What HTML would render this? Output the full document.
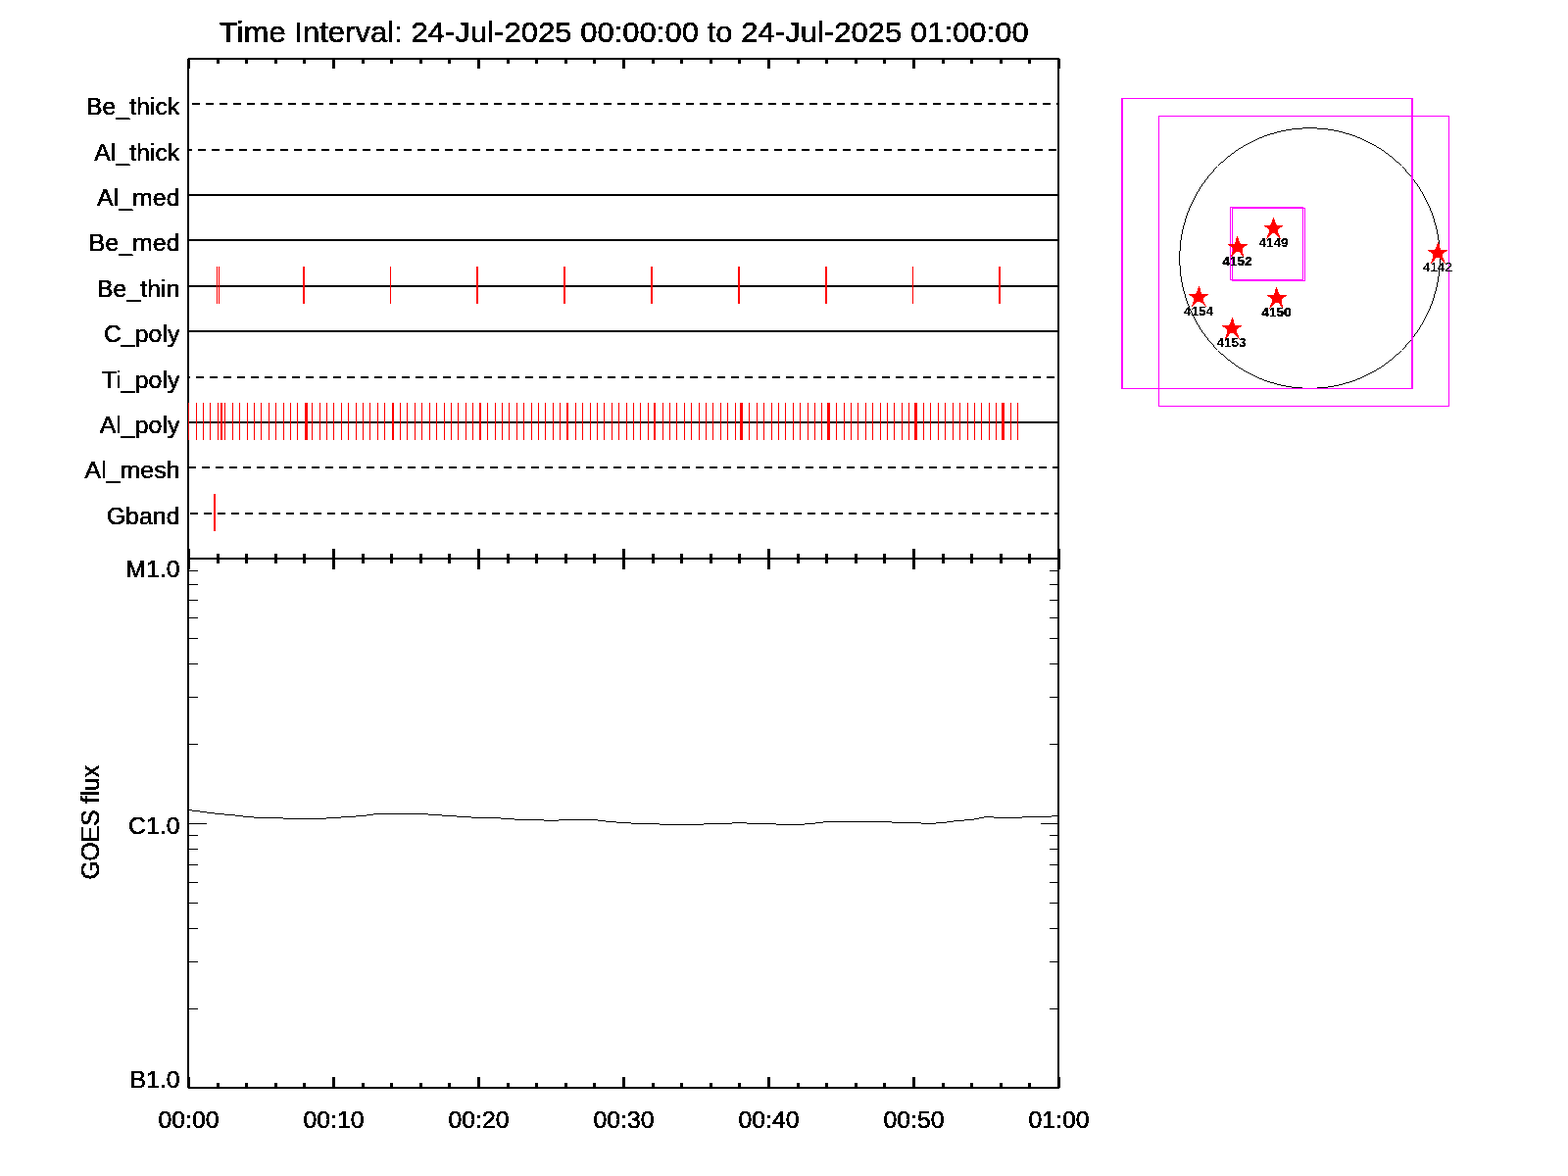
<!DOCTYPE html>
<html lang="en">
<head>
<meta charset="utf-8">
<title>Time Interval: 24-Jul-2025 00:00:00 to 24-Jul-2025 01:00:00</title>
<style>
html,body{margin:0;padding:0;background:#fff;}
body{width:1600px;height:1200px;overflow:hidden;}
svg{display:block;}
text{font-family:"Liberation Sans",sans-serif;fill:#000;}
</style>
</head>
<body>
<svg width="1600" height="1200" viewBox="0 0 1600 1200">
<defs><filter id="bin" x="0" y="0" width="1600" height="1200" filterUnits="userSpaceOnUse" color-interpolation-filters="sRGB"><feComponentTransfer><feFuncA type="discrete" tableValues="0 1"/></feComponentTransfer></filter></defs>
<rect x="0" y="0" width="1600" height="1200" fill="#fff"/>
<g id="fov" shape-rendering="crispEdges">
<g fill="#000"><rect x="1329" y="130" width="15" height="1"/><rect x="1318" y="131" width="11" height="1"/><rect x="1344" y="131" width="11" height="1"/><rect x="1312" y="132" width="6" height="1"/><rect x="1355" y="132" width="6" height="1"/><rect x="1307" y="133" width="5" height="1"/><rect x="1361" y="133" width="5" height="1"/><rect x="1303" y="134" width="4" height="1"/><rect x="1366" y="134" width="4" height="1"/><rect x="1300" y="135" width="3" height="1"/><rect x="1370" y="135" width="3" height="1"/><rect x="1296" y="136" width="4" height="1"/><rect x="1373" y="136" width="4" height="1"/><rect x="1293" y="137" width="3" height="1"/><rect x="1377" y="137" width="3" height="1"/><rect x="1290" y="138" width="3" height="1"/><rect x="1380" y="138" width="3" height="1"/><rect x="1288" y="139" width="2" height="1"/><rect x="1383" y="139" width="2" height="1"/><rect x="1285" y="140" width="3" height="1"/><rect x="1385" y="140" width="3" height="1"/><rect x="1283" y="141" width="2" height="1"/><rect x="1388" y="141" width="2" height="1"/><rect x="1281" y="142" width="2" height="1"/><rect x="1390" y="142" width="2" height="1"/><rect x="1279" y="143" width="2" height="1"/><rect x="1392" y="143" width="2" height="1"/><rect x="1277" y="144" width="2" height="1"/><rect x="1394" y="144" width="2" height="1"/><rect x="1275" y="145" width="2" height="1"/><rect x="1396" y="145" width="2" height="1"/><rect x="1273" y="146" width="2" height="1"/><rect x="1398" y="146" width="2" height="1"/><rect x="1271" y="147" width="2" height="1"/><rect x="1400" y="147" width="2" height="1"/><rect x="1269" y="148" width="2" height="1"/><rect x="1402" y="148" width="2" height="1"/><rect x="1268" y="149" width="1" height="1"/><rect x="1404" y="149" width="1" height="1"/><rect x="1266" y="150" width="2" height="1"/><rect x="1405" y="150" width="2" height="1"/><rect x="1264" y="151" width="2" height="1"/><rect x="1407" y="151" width="2" height="1"/><rect x="1263" y="152" width="1" height="1"/><rect x="1409" y="152" width="1" height="1"/><rect x="1261" y="153" width="2" height="1"/><rect x="1410" y="153" width="2" height="1"/><rect x="1260" y="154" width="1" height="1"/><rect x="1412" y="154" width="1" height="1"/><rect x="1259" y="155" width="1" height="1"/><rect x="1413" y="155" width="1" height="1"/><rect x="1257" y="156" width="2" height="1"/><rect x="1414" y="156" width="2" height="1"/><rect x="1256" y="157" width="1" height="1"/><rect x="1416" y="157" width="1" height="1"/><rect x="1255" y="158" width="1" height="1"/><rect x="1417" y="158" width="1" height="1"/><rect x="1253" y="159" width="2" height="1"/><rect x="1418" y="159" width="2" height="1"/><rect x="1252" y="160" width="1" height="1"/><rect x="1420" y="160" width="1" height="1"/><rect x="1251" y="161" width="1" height="1"/><rect x="1421" y="161" width="1" height="1"/><rect x="1250" y="162" width="1" height="1"/><rect x="1422" y="162" width="1" height="1"/><rect x="1249" y="163" width="1" height="1"/><rect x="1423" y="163" width="1" height="1"/><rect x="1248" y="164" width="1" height="1"/><rect x="1424" y="164" width="1" height="1"/><rect x="1246" y="165" width="2" height="1"/><rect x="1425" y="165" width="2" height="1"/><rect x="1245" y="166" width="1" height="1"/><rect x="1427" y="166" width="1" height="1"/><rect x="1244" y="167" width="1" height="1"/><rect x="1428" y="167" width="1" height="1"/><rect x="1243" y="168" width="1" height="1"/><rect x="1429" y="168" width="1" height="1"/><rect x="1241" y="170" width="1" height="1"/><rect x="1431" y="170" width="1" height="1"/><rect x="1240" y="171" width="1" height="1"/><rect x="1432" y="171" width="1" height="1"/><rect x="1239" y="172" width="1" height="1"/><rect x="1433" y="172" width="1" height="1"/><rect x="1238" y="173" width="1" height="2"/><rect x="1434" y="173" width="1" height="2"/><rect x="1237" y="175" width="1" height="1"/><rect x="1435" y="175" width="1" height="1"/><rect x="1236" y="176" width="1" height="1"/><rect x="1436" y="176" width="1" height="1"/><rect x="1235" y="177" width="1" height="1"/><rect x="1437" y="177" width="1" height="1"/><rect x="1234" y="178" width="1" height="1"/><rect x="1438" y="178" width="1" height="1"/><rect x="1233" y="179" width="1" height="1"/><rect x="1439" y="179" width="1" height="1"/><rect x="1232" y="180" width="1" height="2"/><rect x="1440" y="180" width="1" height="2"/><rect x="1231" y="182" width="1" height="1"/><rect x="1441" y="182" width="1" height="1"/><rect x="1230" y="183" width="1" height="1"/><rect x="1442" y="183" width="1" height="1"/><rect x="1229" y="184" width="1" height="2"/><rect x="1443" y="184" width="1" height="2"/><rect x="1228" y="186" width="1" height="1"/><rect x="1444" y="186" width="1" height="1"/><rect x="1227" y="187" width="1" height="1"/><rect x="1445" y="187" width="1" height="1"/><rect x="1226" y="188" width="1" height="2"/><rect x="1446" y="188" width="1" height="2"/><rect x="1225" y="190" width="1" height="1"/><rect x="1447" y="190" width="1" height="1"/><rect x="1224" y="191" width="1" height="2"/><rect x="1448" y="191" width="1" height="2"/><rect x="1223" y="193" width="1" height="2"/><rect x="1449" y="193" width="1" height="2"/><rect x="1222" y="195" width="1" height="1"/><rect x="1450" y="195" width="1" height="1"/><rect x="1221" y="196" width="1" height="2"/><rect x="1451" y="196" width="1" height="2"/><rect x="1220" y="198" width="1" height="2"/><rect x="1452" y="198" width="1" height="2"/><rect x="1219" y="200" width="1" height="2"/><rect x="1453" y="200" width="1" height="2"/><rect x="1218" y="202" width="1" height="2"/><rect x="1454" y="202" width="1" height="2"/><rect x="1217" y="204" width="1" height="2"/><rect x="1455" y="204" width="1" height="2"/><rect x="1216" y="206" width="1" height="2"/><rect x="1456" y="206" width="1" height="2"/><rect x="1215" y="208" width="1" height="2"/><rect x="1457" y="208" width="1" height="2"/><rect x="1214" y="210" width="1" height="2"/><rect x="1458" y="210" width="1" height="2"/><rect x="1213" y="212" width="1" height="3"/><rect x="1459" y="212" width="1" height="3"/><rect x="1212" y="215" width="1" height="2"/><rect x="1460" y="215" width="1" height="2"/><rect x="1211" y="217" width="1" height="3"/><rect x="1461" y="217" width="1" height="3"/><rect x="1210" y="220" width="1" height="3"/><rect x="1462" y="220" width="1" height="3"/><rect x="1209" y="223" width="1" height="4"/><rect x="1463" y="223" width="1" height="4"/><rect x="1208" y="227" width="1" height="3"/><rect x="1464" y="227" width="1" height="3"/><rect x="1207" y="230" width="1" height="4"/><rect x="1465" y="230" width="1" height="4"/><rect x="1206" y="234" width="1" height="5"/><rect x="1466" y="234" width="1" height="5"/><rect x="1205" y="239" width="1" height="6"/><rect x="1467" y="239" width="1" height="6"/><rect x="1204" y="245" width="1" height="11"/><rect x="1468" y="245" width="1" height="11"/><rect x="1203" y="256" width="1" height="15"/><rect x="1469" y="256" width="1" height="15"/><rect x="1204" y="271" width="1" height="11"/><rect x="1468" y="271" width="1" height="11"/><rect x="1205" y="282" width="1" height="6"/><rect x="1467" y="282" width="1" height="6"/><rect x="1206" y="288" width="1" height="5"/><rect x="1466" y="288" width="1" height="5"/><rect x="1207" y="293" width="1" height="4"/><rect x="1465" y="293" width="1" height="4"/><rect x="1208" y="297" width="1" height="3"/><rect x="1464" y="297" width="1" height="3"/><rect x="1209" y="300" width="1" height="4"/><rect x="1463" y="300" width="1" height="4"/><rect x="1210" y="304" width="1" height="3"/><rect x="1462" y="304" width="1" height="3"/><rect x="1211" y="307" width="1" height="3"/><rect x="1461" y="307" width="1" height="3"/><rect x="1212" y="310" width="1" height="2"/><rect x="1460" y="310" width="1" height="2"/><rect x="1213" y="312" width="1" height="3"/><rect x="1459" y="312" width="1" height="3"/><rect x="1214" y="315" width="1" height="2"/><rect x="1458" y="315" width="1" height="2"/><rect x="1215" y="317" width="1" height="2"/><rect x="1457" y="317" width="1" height="2"/><rect x="1216" y="319" width="1" height="2"/><rect x="1456" y="319" width="1" height="2"/><rect x="1217" y="321" width="1" height="2"/><rect x="1455" y="321" width="1" height="2"/><rect x="1218" y="323" width="1" height="2"/><rect x="1454" y="323" width="1" height="2"/><rect x="1219" y="325" width="1" height="2"/><rect x="1453" y="325" width="1" height="2"/><rect x="1220" y="327" width="1" height="2"/><rect x="1452" y="327" width="1" height="2"/><rect x="1221" y="329" width="1" height="2"/><rect x="1451" y="329" width="1" height="2"/><rect x="1222" y="331" width="1" height="1"/><rect x="1450" y="331" width="1" height="1"/><rect x="1223" y="332" width="1" height="2"/><rect x="1449" y="332" width="1" height="2"/><rect x="1224" y="334" width="1" height="2"/><rect x="1448" y="334" width="1" height="2"/><rect x="1225" y="336" width="1" height="1"/><rect x="1447" y="336" width="1" height="1"/><rect x="1226" y="337" width="1" height="2"/><rect x="1446" y="337" width="1" height="2"/><rect x="1227" y="339" width="1" height="1"/><rect x="1445" y="339" width="1" height="1"/><rect x="1228" y="340" width="1" height="1"/><rect x="1444" y="340" width="1" height="1"/><rect x="1229" y="341" width="1" height="2"/><rect x="1443" y="341" width="1" height="2"/><rect x="1230" y="343" width="1" height="1"/><rect x="1442" y="343" width="1" height="1"/><rect x="1231" y="344" width="1" height="1"/><rect x="1441" y="344" width="1" height="1"/><rect x="1232" y="345" width="1" height="2"/><rect x="1440" y="345" width="1" height="2"/><rect x="1233" y="347" width="1" height="1"/><rect x="1439" y="347" width="1" height="1"/><rect x="1234" y="348" width="1" height="1"/><rect x="1438" y="348" width="1" height="1"/><rect x="1235" y="349" width="1" height="1"/><rect x="1437" y="349" width="1" height="1"/><rect x="1236" y="350" width="1" height="1"/><rect x="1436" y="350" width="1" height="1"/><rect x="1237" y="351" width="1" height="1"/><rect x="1435" y="351" width="1" height="1"/><rect x="1238" y="352" width="1" height="2"/><rect x="1434" y="352" width="1" height="2"/><rect x="1239" y="354" width="1" height="1"/><rect x="1433" y="354" width="1" height="1"/><rect x="1240" y="355" width="1" height="1"/><rect x="1432" y="355" width="1" height="1"/><rect x="1241" y="356" width="1" height="1"/><rect x="1431" y="356" width="1" height="1"/><rect x="1243" y="358" width="1" height="1"/><rect x="1429" y="358" width="1" height="1"/><rect x="1244" y="359" width="1" height="1"/><rect x="1428" y="359" width="1" height="1"/><rect x="1245" y="360" width="1" height="1"/><rect x="1427" y="360" width="1" height="1"/><rect x="1246" y="361" width="2" height="1"/><rect x="1425" y="361" width="2" height="1"/><rect x="1248" y="362" width="1" height="1"/><rect x="1424" y="362" width="1" height="1"/><rect x="1249" y="363" width="1" height="1"/><rect x="1423" y="363" width="1" height="1"/><rect x="1250" y="364" width="1" height="1"/><rect x="1422" y="364" width="1" height="1"/><rect x="1251" y="365" width="1" height="1"/><rect x="1421" y="365" width="1" height="1"/><rect x="1252" y="366" width="1" height="1"/><rect x="1420" y="366" width="1" height="1"/><rect x="1253" y="367" width="2" height="1"/><rect x="1418" y="367" width="2" height="1"/><rect x="1255" y="368" width="1" height="1"/><rect x="1417" y="368" width="1" height="1"/><rect x="1256" y="369" width="1" height="1"/><rect x="1416" y="369" width="1" height="1"/><rect x="1257" y="370" width="2" height="1"/><rect x="1414" y="370" width="2" height="1"/><rect x="1259" y="371" width="1" height="1"/><rect x="1413" y="371" width="1" height="1"/><rect x="1260" y="372" width="1" height="1"/><rect x="1412" y="372" width="1" height="1"/><rect x="1261" y="373" width="2" height="1"/><rect x="1410" y="373" width="2" height="1"/><rect x="1263" y="374" width="1" height="1"/><rect x="1409" y="374" width="1" height="1"/><rect x="1264" y="375" width="2" height="1"/><rect x="1407" y="375" width="2" height="1"/><rect x="1266" y="376" width="2" height="1"/><rect x="1405" y="376" width="2" height="1"/><rect x="1268" y="377" width="1" height="1"/><rect x="1404" y="377" width="1" height="1"/><rect x="1269" y="378" width="2" height="1"/><rect x="1402" y="378" width="2" height="1"/><rect x="1271" y="379" width="2" height="1"/><rect x="1400" y="379" width="2" height="1"/><rect x="1273" y="380" width="2" height="1"/><rect x="1398" y="380" width="2" height="1"/><rect x="1275" y="381" width="2" height="1"/><rect x="1396" y="381" width="2" height="1"/><rect x="1277" y="382" width="2" height="1"/><rect x="1394" y="382" width="2" height="1"/><rect x="1279" y="383" width="2" height="1"/><rect x="1392" y="383" width="2" height="1"/><rect x="1281" y="384" width="2" height="1"/><rect x="1390" y="384" width="2" height="1"/><rect x="1283" y="385" width="2" height="1"/><rect x="1388" y="385" width="2" height="1"/><rect x="1285" y="386" width="3" height="1"/><rect x="1385" y="386" width="3" height="1"/><rect x="1288" y="387" width="2" height="1"/><rect x="1383" y="387" width="2" height="1"/><rect x="1290" y="388" width="3" height="1"/><rect x="1380" y="388" width="3" height="1"/><rect x="1293" y="389" width="3" height="1"/><rect x="1377" y="389" width="3" height="1"/><rect x="1296" y="390" width="4" height="1"/><rect x="1373" y="390" width="4" height="1"/><rect x="1300" y="391" width="3" height="1"/><rect x="1370" y="391" width="3" height="1"/><rect x="1303" y="392" width="4" height="1"/><rect x="1366" y="392" width="4" height="1"/><rect x="1307" y="393" width="5" height="1"/><rect x="1361" y="393" width="5" height="1"/><rect x="1312" y="394" width="6" height="1"/><rect x="1355" y="394" width="6" height="1"/><rect x="1318" y="395" width="11" height="1"/><rect x="1344" y="395" width="11" height="1"/><rect x="1329" y="396" width="15" height="1"/></g>
<rect x="1144.5" y="100.5" width="296" height="296" fill="none" stroke="#f0f" stroke-width="1"/>
<rect x="1145.5" y="100.5" width="296" height="296" fill="none" stroke="#f0f" stroke-width="1"/>
<rect x="1182.5" y="118.5" width="296" height="296" fill="none" stroke="#f0f" stroke-width="1"/>
<rect x="1255.5" y="211.5" width="74" height="74" fill="none" stroke="#f0f" stroke-width="1"/>
<rect x="1257.5" y="212.5" width="74" height="74" fill="none" stroke="#f0f" stroke-width="1"/>
<polygon points="1299.80,222.00 1302.80,230.00 1309.70,230.05 1304.00,234.30 1304.00,237.00 1307.10,244.00 1306.40,244.00 1300.50,237.60 1298.50,237.60 1292.60,244.00 1291.90,244.00 1295.00,237.00 1295.00,234.30 1289.30,230.05 1296.20,230.00 1299.20,222.00" fill="#f00"/>
<polygon points="1262.80,241.00 1265.80,249.00 1273.70,249.05 1268.00,253.30 1268.00,256.00 1269.10,262.00 1268.40,262.00 1264.00,256.60 1261.50,256.60 1256.60,262.00 1255.90,262.00 1258.00,256.00 1258.00,253.30 1252.30,249.05 1259.90,249.00 1262.20,241.00" fill="#f00"/>
<polygon points="1467.80,247.00 1470.10,255.00 1477.70,255.05 1472.00,259.30 1472.00,262.00 1475.10,269.00 1474.40,269.00 1468.50,262.60 1466.00,262.60 1460.60,269.00 1459.90,269.00 1462.00,262.00 1462.00,259.30 1456.30,255.05 1464.20,255.00 1467.20,247.00" fill="#f00"/>
<polygon points="1223.80,292.00 1226.10,300.00 1233.70,300.05 1228.00,304.30 1228.00,307.00 1231.10,313.00 1230.40,313.00 1224.50,307.60 1222.00,307.60 1216.60,313.00 1215.90,313.00 1218.00,307.00 1218.00,304.30 1212.30,300.05 1220.20,300.00 1223.20,292.00" fill="#f00"/>
<polygon points="1302.80,293.00 1305.80,301.00 1313.70,301.05 1308.00,305.30 1308.00,308.00 1309.10,314.00 1308.40,314.00 1304.00,308.60 1301.50,308.60 1295.60,315.00 1294.90,315.00 1298.00,308.00 1298.00,305.30 1292.30,301.05 1299.90,301.00 1302.20,293.00" fill="#f00"/>
<polygon points="1257.80,324.00 1260.10,332.00 1267.70,332.05 1262.00,336.30 1262.00,339.00 1265.10,346.00 1264.40,346.00 1258.50,339.60 1256.00,339.60 1250.60,346.00 1249.90,346.00 1252.00,339.00 1252.00,336.30 1246.30,332.05 1254.20,332.00 1257.20,324.00" fill="#f00"/>
</g>
<g id="fovlabels" filter="url(#bin)">
<text x="1299.5" y="252" font-size="13.4" font-weight="700" text-anchor="middle" stroke="#000" stroke-width="0.15">4149</text>
<text x="1262.5" y="271" font-size="13.4" font-weight="700" text-anchor="middle" stroke="#000" stroke-width="0.4">4152</text>
<text x="1467.0" y="277" font-size="13.4" font-weight="400" text-anchor="middle" stroke="#000" stroke-width="0.35">4142</text>
<text x="1223.0" y="322" font-size="13.4" font-weight="700" text-anchor="middle" stroke="#000" stroke-width="0.15">4154</text>
<text x="1302.5" y="323" font-size="13.4" font-weight="700" text-anchor="middle" stroke="#000" stroke-width="0.4">4150</text>
<text x="1256.5" y="354" font-size="13.4" font-weight="700" text-anchor="middle" stroke="#000" stroke-width="0.15">4153</text>
</g>
<g id="plot" shape-rendering="crispEdges">
<rect x="191" y="59" width="890" height="2" fill="#000"/>
<rect x="191" y="569" width="890" height="2" fill="#000"/>
<rect x="191" y="1109" width="890" height="2" fill="#000"/>
<rect x="191" y="59" width="2" height="1052" fill="#000"/>
<rect x="1079" y="59" width="2" height="1052" fill="#000"/>
<rect x="191" y="59" width="3" height="11" fill="#000"/>
<rect x="191" y="560" width="3" height="21" fill="#000"/>
<rect x="191" y="1099" width="3" height="12" fill="#000"/>
<rect x="221" y="59" width="3" height="6" fill="#000"/>
<rect x="221" y="565" width="3" height="10" fill="#000"/>
<rect x="221" y="1105" width="3" height="6" fill="#000"/>
<rect x="250" y="59" width="3" height="6" fill="#000"/>
<rect x="250" y="565" width="3" height="10" fill="#000"/>
<rect x="250" y="1105" width="3" height="6" fill="#000"/>
<rect x="280" y="59" width="3" height="6" fill="#000"/>
<rect x="280" y="565" width="3" height="10" fill="#000"/>
<rect x="280" y="1105" width="3" height="6" fill="#000"/>
<rect x="309" y="59" width="3" height="6" fill="#000"/>
<rect x="309" y="565" width="3" height="10" fill="#000"/>
<rect x="309" y="1105" width="3" height="6" fill="#000"/>
<rect x="339" y="59" width="3" height="11" fill="#000"/>
<rect x="339" y="560" width="3" height="21" fill="#000"/>
<rect x="339" y="1099" width="3" height="12" fill="#000"/>
<rect x="369" y="59" width="3" height="6" fill="#000"/>
<rect x="369" y="565" width="3" height="10" fill="#000"/>
<rect x="369" y="1105" width="3" height="6" fill="#000"/>
<rect x="398" y="59" width="3" height="6" fill="#000"/>
<rect x="398" y="565" width="3" height="10" fill="#000"/>
<rect x="398" y="1105" width="3" height="6" fill="#000"/>
<rect x="428" y="59" width="3" height="6" fill="#000"/>
<rect x="428" y="565" width="3" height="10" fill="#000"/>
<rect x="428" y="1105" width="3" height="6" fill="#000"/>
<rect x="457" y="59" width="3" height="6" fill="#000"/>
<rect x="457" y="565" width="3" height="10" fill="#000"/>
<rect x="457" y="1105" width="3" height="6" fill="#000"/>
<rect x="487" y="59" width="3" height="11" fill="#000"/>
<rect x="487" y="560" width="3" height="21" fill="#000"/>
<rect x="487" y="1099" width="3" height="12" fill="#000"/>
<rect x="517" y="59" width="3" height="6" fill="#000"/>
<rect x="517" y="565" width="3" height="10" fill="#000"/>
<rect x="517" y="1105" width="3" height="6" fill="#000"/>
<rect x="546" y="59" width="3" height="6" fill="#000"/>
<rect x="546" y="565" width="3" height="10" fill="#000"/>
<rect x="546" y="1105" width="3" height="6" fill="#000"/>
<rect x="576" y="59" width="3" height="6" fill="#000"/>
<rect x="576" y="565" width="3" height="10" fill="#000"/>
<rect x="576" y="1105" width="3" height="6" fill="#000"/>
<rect x="605" y="59" width="3" height="6" fill="#000"/>
<rect x="605" y="565" width="3" height="10" fill="#000"/>
<rect x="605" y="1105" width="3" height="6" fill="#000"/>
<rect x="635" y="59" width="3" height="11" fill="#000"/>
<rect x="635" y="560" width="3" height="21" fill="#000"/>
<rect x="635" y="1099" width="3" height="12" fill="#000"/>
<rect x="665" y="59" width="3" height="6" fill="#000"/>
<rect x="665" y="565" width="3" height="10" fill="#000"/>
<rect x="665" y="1105" width="3" height="6" fill="#000"/>
<rect x="694" y="59" width="3" height="6" fill="#000"/>
<rect x="694" y="565" width="3" height="10" fill="#000"/>
<rect x="694" y="1105" width="3" height="6" fill="#000"/>
<rect x="724" y="59" width="3" height="6" fill="#000"/>
<rect x="724" y="565" width="3" height="10" fill="#000"/>
<rect x="724" y="1105" width="3" height="6" fill="#000"/>
<rect x="753" y="59" width="3" height="6" fill="#000"/>
<rect x="753" y="565" width="3" height="10" fill="#000"/>
<rect x="753" y="1105" width="3" height="6" fill="#000"/>
<rect x="783" y="59" width="3" height="11" fill="#000"/>
<rect x="783" y="560" width="3" height="21" fill="#000"/>
<rect x="783" y="1099" width="3" height="12" fill="#000"/>
<rect x="813" y="59" width="3" height="6" fill="#000"/>
<rect x="813" y="565" width="3" height="10" fill="#000"/>
<rect x="813" y="1105" width="3" height="6" fill="#000"/>
<rect x="842" y="59" width="3" height="6" fill="#000"/>
<rect x="842" y="565" width="3" height="10" fill="#000"/>
<rect x="842" y="1105" width="3" height="6" fill="#000"/>
<rect x="872" y="59" width="3" height="6" fill="#000"/>
<rect x="872" y="565" width="3" height="10" fill="#000"/>
<rect x="872" y="1105" width="3" height="6" fill="#000"/>
<rect x="901" y="59" width="3" height="6" fill="#000"/>
<rect x="901" y="565" width="3" height="10" fill="#000"/>
<rect x="901" y="1105" width="3" height="6" fill="#000"/>
<rect x="931" y="59" width="3" height="11" fill="#000"/>
<rect x="931" y="560" width="3" height="21" fill="#000"/>
<rect x="931" y="1099" width="3" height="12" fill="#000"/>
<rect x="961" y="59" width="3" height="6" fill="#000"/>
<rect x="961" y="565" width="3" height="10" fill="#000"/>
<rect x="961" y="1105" width="3" height="6" fill="#000"/>
<rect x="990" y="59" width="3" height="6" fill="#000"/>
<rect x="990" y="565" width="3" height="10" fill="#000"/>
<rect x="990" y="1105" width="3" height="6" fill="#000"/>
<rect x="1020" y="59" width="3" height="6" fill="#000"/>
<rect x="1020" y="565" width="3" height="10" fill="#000"/>
<rect x="1020" y="1105" width="3" height="6" fill="#000"/>
<rect x="1049" y="59" width="3" height="6" fill="#000"/>
<rect x="1049" y="565" width="3" height="10" fill="#000"/>
<rect x="1049" y="1105" width="3" height="6" fill="#000"/>
<rect x="1079" y="59" width="3" height="11" fill="#000"/>
<rect x="1079" y="560" width="3" height="21" fill="#000"/>
<rect x="1079" y="1099" width="3" height="12" fill="#000"/>
<rect x="191" y="59" width="1" height="1" fill="#fff"/>
<rect x="1081" y="59" width="1" height="1" fill="#fff"/>
<rect x="191" y="1110" width="1" height="1" fill="#fff"/>
<rect x="1081" y="1110" width="1" height="1" fill="#fff"/>
<rect x="193" y="759" width="9" height="1" fill="#000"/>
<rect x="1071" y="759" width="8" height="1" fill="#000"/>
<rect x="193" y="711" width="9" height="1" fill="#000"/>
<rect x="1071" y="711" width="8" height="1" fill="#000"/>
<rect x="193" y="677" width="9" height="1" fill="#000"/>
<rect x="1071" y="677" width="8" height="1" fill="#000"/>
<rect x="193" y="651" width="9" height="1" fill="#000"/>
<rect x="1071" y="651" width="8" height="1" fill="#000"/>
<rect x="193" y="630" width="9" height="1" fill="#000"/>
<rect x="1071" y="630" width="8" height="1" fill="#000"/>
<rect x="193" y="612" width="9" height="1" fill="#000"/>
<rect x="1071" y="612" width="8" height="1" fill="#000"/>
<rect x="193" y="596" width="9" height="1" fill="#000"/>
<rect x="1071" y="596" width="8" height="1" fill="#000"/>
<rect x="193" y="582" width="9" height="1" fill="#000"/>
<rect x="1071" y="582" width="8" height="1" fill="#000"/>
<rect x="193" y="1029" width="9" height="1" fill="#000"/>
<rect x="1071" y="1029" width="8" height="1" fill="#000"/>
<rect x="193" y="981" width="9" height="1" fill="#000"/>
<rect x="1071" y="981" width="8" height="1" fill="#000"/>
<rect x="193" y="947" width="9" height="1" fill="#000"/>
<rect x="1071" y="947" width="8" height="1" fill="#000"/>
<rect x="193" y="921" width="9" height="1" fill="#000"/>
<rect x="1071" y="921" width="8" height="1" fill="#000"/>
<rect x="193" y="900" width="9" height="1" fill="#000"/>
<rect x="1071" y="900" width="8" height="1" fill="#000"/>
<rect x="193" y="882" width="9" height="1" fill="#000"/>
<rect x="1071" y="882" width="8" height="1" fill="#000"/>
<rect x="193" y="866" width="9" height="1" fill="#000"/>
<rect x="1071" y="866" width="8" height="1" fill="#000"/>
<rect x="193" y="852" width="9" height="1" fill="#000"/>
<rect x="1071" y="852" width="8" height="1" fill="#000"/>
<rect x="193" y="840" width="18" height="1" fill="#000"/>
<rect x="1062" y="840" width="17" height="1" fill="#000"/>
<rect x="196" y="105" width="8" height="2" fill="#000"/>
<rect x="210" y="105" width="8" height="2" fill="#000"/>
<rect x="224" y="105" width="8" height="2" fill="#000"/>
<rect x="238" y="105" width="8" height="2" fill="#000"/>
<rect x="252" y="105" width="8" height="2" fill="#000"/>
<rect x="266" y="105" width="8" height="2" fill="#000"/>
<rect x="280" y="105" width="8" height="2" fill="#000"/>
<rect x="294" y="105" width="8" height="2" fill="#000"/>
<rect x="308" y="105" width="8" height="2" fill="#000"/>
<rect x="322" y="105" width="8" height="2" fill="#000"/>
<rect x="336" y="105" width="8" height="2" fill="#000"/>
<rect x="350" y="105" width="8" height="2" fill="#000"/>
<rect x="364" y="105" width="8" height="2" fill="#000"/>
<rect x="378" y="105" width="8" height="2" fill="#000"/>
<rect x="392" y="105" width="8" height="2" fill="#000"/>
<rect x="406" y="105" width="8" height="2" fill="#000"/>
<rect x="420" y="105" width="8" height="2" fill="#000"/>
<rect x="434" y="105" width="8" height="2" fill="#000"/>
<rect x="448" y="105" width="8" height="2" fill="#000"/>
<rect x="462" y="105" width="8" height="2" fill="#000"/>
<rect x="476" y="105" width="8" height="2" fill="#000"/>
<rect x="490" y="105" width="8" height="2" fill="#000"/>
<rect x="504" y="105" width="8" height="2" fill="#000"/>
<rect x="518" y="105" width="8" height="2" fill="#000"/>
<rect x="532" y="105" width="8" height="2" fill="#000"/>
<rect x="546" y="105" width="8" height="2" fill="#000"/>
<rect x="560" y="105" width="8" height="2" fill="#000"/>
<rect x="574" y="105" width="8" height="2" fill="#000"/>
<rect x="588" y="105" width="8" height="2" fill="#000"/>
<rect x="602" y="105" width="8" height="2" fill="#000"/>
<rect x="616" y="105" width="8" height="2" fill="#000"/>
<rect x="630" y="105" width="8" height="2" fill="#000"/>
<rect x="644" y="105" width="8" height="2" fill="#000"/>
<rect x="658" y="105" width="8" height="2" fill="#000"/>
<rect x="672" y="105" width="8" height="2" fill="#000"/>
<rect x="686" y="105" width="8" height="2" fill="#000"/>
<rect x="700" y="105" width="8" height="2" fill="#000"/>
<rect x="714" y="105" width="8" height="2" fill="#000"/>
<rect x="728" y="105" width="8" height="2" fill="#000"/>
<rect x="742" y="105" width="8" height="2" fill="#000"/>
<rect x="756" y="105" width="8" height="2" fill="#000"/>
<rect x="770" y="105" width="8" height="2" fill="#000"/>
<rect x="784" y="105" width="8" height="2" fill="#000"/>
<rect x="798" y="105" width="8" height="2" fill="#000"/>
<rect x="812" y="105" width="8" height="2" fill="#000"/>
<rect x="826" y="105" width="8" height="2" fill="#000"/>
<rect x="840" y="105" width="8" height="2" fill="#000"/>
<rect x="854" y="105" width="8" height="2" fill="#000"/>
<rect x="868" y="105" width="8" height="2" fill="#000"/>
<rect x="882" y="105" width="8" height="2" fill="#000"/>
<rect x="896" y="105" width="8" height="2" fill="#000"/>
<rect x="910" y="105" width="8" height="2" fill="#000"/>
<rect x="924" y="105" width="8" height="2" fill="#000"/>
<rect x="938" y="105" width="8" height="2" fill="#000"/>
<rect x="952" y="105" width="8" height="2" fill="#000"/>
<rect x="966" y="105" width="8" height="2" fill="#000"/>
<rect x="980" y="105" width="8" height="2" fill="#000"/>
<rect x="994" y="105" width="8" height="2" fill="#000"/>
<rect x="1008" y="105" width="8" height="2" fill="#000"/>
<rect x="1022" y="105" width="8" height="2" fill="#000"/>
<rect x="1036" y="105" width="8" height="2" fill="#000"/>
<rect x="1050" y="105" width="8" height="2" fill="#000"/>
<rect x="1064" y="105" width="8" height="2" fill="#000"/>
<rect x="1078" y="105" width="1" height="2" fill="#000"/>
<rect x="193" y="152" width="3" height="2" fill="#000"/>
<rect x="202" y="152" width="8" height="2" fill="#000"/>
<rect x="216" y="152" width="8" height="2" fill="#000"/>
<rect x="230" y="152" width="8" height="2" fill="#000"/>
<rect x="244" y="152" width="8" height="2" fill="#000"/>
<rect x="258" y="152" width="8" height="2" fill="#000"/>
<rect x="272" y="152" width="8" height="2" fill="#000"/>
<rect x="286" y="152" width="8" height="2" fill="#000"/>
<rect x="300" y="152" width="8" height="2" fill="#000"/>
<rect x="314" y="152" width="8" height="2" fill="#000"/>
<rect x="328" y="152" width="8" height="2" fill="#000"/>
<rect x="342" y="152" width="8" height="2" fill="#000"/>
<rect x="356" y="152" width="8" height="2" fill="#000"/>
<rect x="370" y="152" width="8" height="2" fill="#000"/>
<rect x="384" y="152" width="8" height="2" fill="#000"/>
<rect x="398" y="152" width="8" height="2" fill="#000"/>
<rect x="412" y="152" width="8" height="2" fill="#000"/>
<rect x="426" y="152" width="8" height="2" fill="#000"/>
<rect x="440" y="152" width="8" height="2" fill="#000"/>
<rect x="454" y="152" width="8" height="2" fill="#000"/>
<rect x="468" y="152" width="8" height="2" fill="#000"/>
<rect x="482" y="152" width="8" height="2" fill="#000"/>
<rect x="496" y="152" width="8" height="2" fill="#000"/>
<rect x="510" y="152" width="8" height="2" fill="#000"/>
<rect x="524" y="152" width="8" height="2" fill="#000"/>
<rect x="538" y="152" width="8" height="2" fill="#000"/>
<rect x="552" y="152" width="8" height="2" fill="#000"/>
<rect x="566" y="152" width="8" height="2" fill="#000"/>
<rect x="580" y="152" width="8" height="2" fill="#000"/>
<rect x="594" y="152" width="8" height="2" fill="#000"/>
<rect x="608" y="152" width="8" height="2" fill="#000"/>
<rect x="622" y="152" width="8" height="2" fill="#000"/>
<rect x="636" y="152" width="8" height="2" fill="#000"/>
<rect x="650" y="152" width="8" height="2" fill="#000"/>
<rect x="664" y="152" width="8" height="2" fill="#000"/>
<rect x="678" y="152" width="8" height="2" fill="#000"/>
<rect x="692" y="152" width="8" height="2" fill="#000"/>
<rect x="706" y="152" width="8" height="2" fill="#000"/>
<rect x="720" y="152" width="8" height="2" fill="#000"/>
<rect x="734" y="152" width="8" height="2" fill="#000"/>
<rect x="748" y="152" width="8" height="2" fill="#000"/>
<rect x="762" y="152" width="8" height="2" fill="#000"/>
<rect x="776" y="152" width="8" height="2" fill="#000"/>
<rect x="790" y="152" width="8" height="2" fill="#000"/>
<rect x="804" y="152" width="8" height="2" fill="#000"/>
<rect x="818" y="152" width="8" height="2" fill="#000"/>
<rect x="832" y="152" width="8" height="2" fill="#000"/>
<rect x="846" y="152" width="8" height="2" fill="#000"/>
<rect x="860" y="152" width="8" height="2" fill="#000"/>
<rect x="874" y="152" width="8" height="2" fill="#000"/>
<rect x="888" y="152" width="8" height="2" fill="#000"/>
<rect x="902" y="152" width="8" height="2" fill="#000"/>
<rect x="916" y="152" width="8" height="2" fill="#000"/>
<rect x="930" y="152" width="8" height="2" fill="#000"/>
<rect x="944" y="152" width="8" height="2" fill="#000"/>
<rect x="958" y="152" width="8" height="2" fill="#000"/>
<rect x="972" y="152" width="8" height="2" fill="#000"/>
<rect x="986" y="152" width="8" height="2" fill="#000"/>
<rect x="1000" y="152" width="8" height="2" fill="#000"/>
<rect x="1014" y="152" width="8" height="2" fill="#000"/>
<rect x="1028" y="152" width="8" height="2" fill="#000"/>
<rect x="1042" y="152" width="8" height="2" fill="#000"/>
<rect x="1056" y="152" width="8" height="2" fill="#000"/>
<rect x="1070" y="152" width="8" height="2" fill="#000"/>
<rect x="193" y="198" width="886" height="2" fill="#000"/>
<rect x="193" y="244" width="886" height="2" fill="#000"/>
<rect x="193" y="291" width="886" height="2" fill="#000"/>
<rect x="193" y="337" width="886" height="2" fill="#000"/>
<rect x="193" y="384" width="1" height="2" fill="#000"/>
<rect x="200" y="384" width="8" height="2" fill="#000"/>
<rect x="214" y="384" width="8" height="2" fill="#000"/>
<rect x="228" y="384" width="8" height="2" fill="#000"/>
<rect x="242" y="384" width="8" height="2" fill="#000"/>
<rect x="256" y="384" width="8" height="2" fill="#000"/>
<rect x="270" y="384" width="8" height="2" fill="#000"/>
<rect x="284" y="384" width="8" height="2" fill="#000"/>
<rect x="298" y="384" width="8" height="2" fill="#000"/>
<rect x="312" y="384" width="8" height="2" fill="#000"/>
<rect x="326" y="384" width="8" height="2" fill="#000"/>
<rect x="340" y="384" width="8" height="2" fill="#000"/>
<rect x="354" y="384" width="8" height="2" fill="#000"/>
<rect x="368" y="384" width="8" height="2" fill="#000"/>
<rect x="382" y="384" width="8" height="2" fill="#000"/>
<rect x="396" y="384" width="8" height="2" fill="#000"/>
<rect x="410" y="384" width="8" height="2" fill="#000"/>
<rect x="424" y="384" width="8" height="2" fill="#000"/>
<rect x="438" y="384" width="8" height="2" fill="#000"/>
<rect x="452" y="384" width="8" height="2" fill="#000"/>
<rect x="466" y="384" width="8" height="2" fill="#000"/>
<rect x="480" y="384" width="8" height="2" fill="#000"/>
<rect x="494" y="384" width="8" height="2" fill="#000"/>
<rect x="508" y="384" width="8" height="2" fill="#000"/>
<rect x="522" y="384" width="8" height="2" fill="#000"/>
<rect x="536" y="384" width="8" height="2" fill="#000"/>
<rect x="550" y="384" width="8" height="2" fill="#000"/>
<rect x="564" y="384" width="8" height="2" fill="#000"/>
<rect x="578" y="384" width="8" height="2" fill="#000"/>
<rect x="592" y="384" width="8" height="2" fill="#000"/>
<rect x="606" y="384" width="8" height="2" fill="#000"/>
<rect x="620" y="384" width="8" height="2" fill="#000"/>
<rect x="634" y="384" width="8" height="2" fill="#000"/>
<rect x="648" y="384" width="8" height="2" fill="#000"/>
<rect x="662" y="384" width="8" height="2" fill="#000"/>
<rect x="676" y="384" width="8" height="2" fill="#000"/>
<rect x="690" y="384" width="8" height="2" fill="#000"/>
<rect x="704" y="384" width="8" height="2" fill="#000"/>
<rect x="718" y="384" width="8" height="2" fill="#000"/>
<rect x="732" y="384" width="8" height="2" fill="#000"/>
<rect x="746" y="384" width="8" height="2" fill="#000"/>
<rect x="760" y="384" width="8" height="2" fill="#000"/>
<rect x="774" y="384" width="8" height="2" fill="#000"/>
<rect x="788" y="384" width="8" height="2" fill="#000"/>
<rect x="802" y="384" width="8" height="2" fill="#000"/>
<rect x="816" y="384" width="8" height="2" fill="#000"/>
<rect x="830" y="384" width="8" height="2" fill="#000"/>
<rect x="844" y="384" width="8" height="2" fill="#000"/>
<rect x="858" y="384" width="8" height="2" fill="#000"/>
<rect x="872" y="384" width="8" height="2" fill="#000"/>
<rect x="886" y="384" width="8" height="2" fill="#000"/>
<rect x="900" y="384" width="8" height="2" fill="#000"/>
<rect x="914" y="384" width="8" height="2" fill="#000"/>
<rect x="928" y="384" width="8" height="2" fill="#000"/>
<rect x="942" y="384" width="8" height="2" fill="#000"/>
<rect x="956" y="384" width="8" height="2" fill="#000"/>
<rect x="970" y="384" width="8" height="2" fill="#000"/>
<rect x="984" y="384" width="8" height="2" fill="#000"/>
<rect x="998" y="384" width="8" height="2" fill="#000"/>
<rect x="1012" y="384" width="8" height="2" fill="#000"/>
<rect x="1026" y="384" width="8" height="2" fill="#000"/>
<rect x="1040" y="384" width="8" height="2" fill="#000"/>
<rect x="1054" y="384" width="8" height="2" fill="#000"/>
<rect x="1068" y="384" width="8" height="2" fill="#000"/>
<rect x="193" y="430" width="886" height="2" fill="#000"/>
<rect x="193" y="476" width="7" height="2" fill="#000"/>
<rect x="206" y="476" width="8" height="2" fill="#000"/>
<rect x="220" y="476" width="8" height="2" fill="#000"/>
<rect x="234" y="476" width="8" height="2" fill="#000"/>
<rect x="248" y="476" width="8" height="2" fill="#000"/>
<rect x="262" y="476" width="8" height="2" fill="#000"/>
<rect x="276" y="476" width="8" height="2" fill="#000"/>
<rect x="290" y="476" width="8" height="2" fill="#000"/>
<rect x="304" y="476" width="8" height="2" fill="#000"/>
<rect x="318" y="476" width="8" height="2" fill="#000"/>
<rect x="332" y="476" width="8" height="2" fill="#000"/>
<rect x="346" y="476" width="8" height="2" fill="#000"/>
<rect x="360" y="476" width="8" height="2" fill="#000"/>
<rect x="374" y="476" width="8" height="2" fill="#000"/>
<rect x="388" y="476" width="8" height="2" fill="#000"/>
<rect x="402" y="476" width="8" height="2" fill="#000"/>
<rect x="416" y="476" width="8" height="2" fill="#000"/>
<rect x="430" y="476" width="8" height="2" fill="#000"/>
<rect x="444" y="476" width="8" height="2" fill="#000"/>
<rect x="458" y="476" width="8" height="2" fill="#000"/>
<rect x="472" y="476" width="8" height="2" fill="#000"/>
<rect x="486" y="476" width="8" height="2" fill="#000"/>
<rect x="500" y="476" width="8" height="2" fill="#000"/>
<rect x="514" y="476" width="8" height="2" fill="#000"/>
<rect x="528" y="476" width="8" height="2" fill="#000"/>
<rect x="542" y="476" width="8" height="2" fill="#000"/>
<rect x="556" y="476" width="8" height="2" fill="#000"/>
<rect x="570" y="476" width="8" height="2" fill="#000"/>
<rect x="584" y="476" width="8" height="2" fill="#000"/>
<rect x="598" y="476" width="8" height="2" fill="#000"/>
<rect x="612" y="476" width="8" height="2" fill="#000"/>
<rect x="626" y="476" width="8" height="2" fill="#000"/>
<rect x="640" y="476" width="8" height="2" fill="#000"/>
<rect x="654" y="476" width="8" height="2" fill="#000"/>
<rect x="668" y="476" width="8" height="2" fill="#000"/>
<rect x="682" y="476" width="8" height="2" fill="#000"/>
<rect x="696" y="476" width="8" height="2" fill="#000"/>
<rect x="710" y="476" width="8" height="2" fill="#000"/>
<rect x="724" y="476" width="8" height="2" fill="#000"/>
<rect x="738" y="476" width="8" height="2" fill="#000"/>
<rect x="752" y="476" width="8" height="2" fill="#000"/>
<rect x="766" y="476" width="8" height="2" fill="#000"/>
<rect x="780" y="476" width="8" height="2" fill="#000"/>
<rect x="794" y="476" width="8" height="2" fill="#000"/>
<rect x="808" y="476" width="8" height="2" fill="#000"/>
<rect x="822" y="476" width="8" height="2" fill="#000"/>
<rect x="836" y="476" width="8" height="2" fill="#000"/>
<rect x="850" y="476" width="8" height="2" fill="#000"/>
<rect x="864" y="476" width="8" height="2" fill="#000"/>
<rect x="878" y="476" width="8" height="2" fill="#000"/>
<rect x="892" y="476" width="8" height="2" fill="#000"/>
<rect x="906" y="476" width="8" height="2" fill="#000"/>
<rect x="920" y="476" width="8" height="2" fill="#000"/>
<rect x="934" y="476" width="8" height="2" fill="#000"/>
<rect x="948" y="476" width="8" height="2" fill="#000"/>
<rect x="962" y="476" width="8" height="2" fill="#000"/>
<rect x="976" y="476" width="8" height="2" fill="#000"/>
<rect x="990" y="476" width="8" height="2" fill="#000"/>
<rect x="1004" y="476" width="8" height="2" fill="#000"/>
<rect x="1018" y="476" width="8" height="2" fill="#000"/>
<rect x="1032" y="476" width="8" height="2" fill="#000"/>
<rect x="1046" y="476" width="8" height="2" fill="#000"/>
<rect x="1060" y="476" width="8" height="2" fill="#000"/>
<rect x="1074" y="476" width="5" height="2" fill="#000"/>
<rect x="194" y="523" width="8" height="2" fill="#000"/>
<rect x="208" y="523" width="8" height="2" fill="#000"/>
<rect x="222" y="523" width="8" height="2" fill="#000"/>
<rect x="236" y="523" width="8" height="2" fill="#000"/>
<rect x="250" y="523" width="8" height="2" fill="#000"/>
<rect x="264" y="523" width="8" height="2" fill="#000"/>
<rect x="278" y="523" width="8" height="2" fill="#000"/>
<rect x="292" y="523" width="8" height="2" fill="#000"/>
<rect x="306" y="523" width="8" height="2" fill="#000"/>
<rect x="320" y="523" width="8" height="2" fill="#000"/>
<rect x="334" y="523" width="8" height="2" fill="#000"/>
<rect x="348" y="523" width="8" height="2" fill="#000"/>
<rect x="362" y="523" width="8" height="2" fill="#000"/>
<rect x="376" y="523" width="8" height="2" fill="#000"/>
<rect x="390" y="523" width="8" height="2" fill="#000"/>
<rect x="404" y="523" width="8" height="2" fill="#000"/>
<rect x="418" y="523" width="8" height="2" fill="#000"/>
<rect x="432" y="523" width="8" height="2" fill="#000"/>
<rect x="446" y="523" width="8" height="2" fill="#000"/>
<rect x="460" y="523" width="8" height="2" fill="#000"/>
<rect x="474" y="523" width="8" height="2" fill="#000"/>
<rect x="488" y="523" width="8" height="2" fill="#000"/>
<rect x="502" y="523" width="8" height="2" fill="#000"/>
<rect x="516" y="523" width="8" height="2" fill="#000"/>
<rect x="530" y="523" width="8" height="2" fill="#000"/>
<rect x="544" y="523" width="8" height="2" fill="#000"/>
<rect x="558" y="523" width="8" height="2" fill="#000"/>
<rect x="572" y="523" width="8" height="2" fill="#000"/>
<rect x="586" y="523" width="8" height="2" fill="#000"/>
<rect x="600" y="523" width="8" height="2" fill="#000"/>
<rect x="614" y="523" width="8" height="2" fill="#000"/>
<rect x="628" y="523" width="8" height="2" fill="#000"/>
<rect x="642" y="523" width="8" height="2" fill="#000"/>
<rect x="656" y="523" width="8" height="2" fill="#000"/>
<rect x="670" y="523" width="8" height="2" fill="#000"/>
<rect x="684" y="523" width="8" height="2" fill="#000"/>
<rect x="698" y="523" width="8" height="2" fill="#000"/>
<rect x="712" y="523" width="8" height="2" fill="#000"/>
<rect x="726" y="523" width="8" height="2" fill="#000"/>
<rect x="740" y="523" width="8" height="2" fill="#000"/>
<rect x="754" y="523" width="8" height="2" fill="#000"/>
<rect x="768" y="523" width="8" height="2" fill="#000"/>
<rect x="782" y="523" width="8" height="2" fill="#000"/>
<rect x="796" y="523" width="8" height="2" fill="#000"/>
<rect x="810" y="523" width="8" height="2" fill="#000"/>
<rect x="824" y="523" width="8" height="2" fill="#000"/>
<rect x="838" y="523" width="8" height="2" fill="#000"/>
<rect x="852" y="523" width="8" height="2" fill="#000"/>
<rect x="866" y="523" width="8" height="2" fill="#000"/>
<rect x="880" y="523" width="8" height="2" fill="#000"/>
<rect x="894" y="523" width="8" height="2" fill="#000"/>
<rect x="908" y="523" width="8" height="2" fill="#000"/>
<rect x="922" y="523" width="8" height="2" fill="#000"/>
<rect x="936" y="523" width="8" height="2" fill="#000"/>
<rect x="950" y="523" width="8" height="2" fill="#000"/>
<rect x="964" y="523" width="8" height="2" fill="#000"/>
<rect x="978" y="523" width="8" height="2" fill="#000"/>
<rect x="992" y="523" width="8" height="2" fill="#000"/>
<rect x="1006" y="523" width="8" height="2" fill="#000"/>
<rect x="1020" y="523" width="8" height="2" fill="#000"/>
<rect x="1034" y="523" width="8" height="2" fill="#000"/>
<rect x="1048" y="523" width="8" height="2" fill="#000"/>
<rect x="1062" y="523" width="8" height="2" fill="#000"/>
<rect x="1076" y="523" width="3" height="2" fill="#000"/>
<rect x="221" y="272" width="1" height="38" fill="#f00"/>
<rect x="223" y="272" width="1" height="38" fill="#f00"/>
<rect x="309" y="272" width="2" height="38" fill="#f00"/>
<rect x="398" y="272" width="1" height="38" fill="#f00"/>
<rect x="486" y="272" width="2" height="38" fill="#f00"/>
<rect x="575" y="272" width="2" height="38" fill="#f00"/>
<rect x="664" y="272" width="2" height="38" fill="#f00"/>
<rect x="753" y="272" width="2" height="38" fill="#f00"/>
<rect x="842" y="272" width="2" height="38" fill="#f00"/>
<rect x="931" y="272" width="1" height="38" fill="#f00"/>
<rect x="1019" y="272" width="2" height="38" fill="#f00"/>
<rect x="192" y="411" width="1" height="38" fill="#f00"/>
<rect x="200" y="411" width="1" height="38" fill="#f00"/>
<rect x="207" y="411" width="1" height="38" fill="#f00"/>
<rect x="214" y="411" width="1" height="38" fill="#f00"/>
<rect x="222" y="411" width="1" height="38" fill="#f00"/>
<rect x="225" y="411" width="2" height="38" fill="#f00"/>
<rect x="229" y="411" width="1" height="38" fill="#f00"/>
<rect x="237" y="411" width="1" height="38" fill="#f00"/>
<rect x="244" y="411" width="1" height="38" fill="#f00"/>
<rect x="252" y="411" width="1" height="38" fill="#f00"/>
<rect x="259" y="411" width="1" height="38" fill="#f00"/>
<rect x="266" y="411" width="1" height="38" fill="#f00"/>
<rect x="274" y="411" width="1" height="38" fill="#f00"/>
<rect x="281" y="411" width="1" height="38" fill="#f00"/>
<rect x="289" y="411" width="1" height="38" fill="#f00"/>
<rect x="296" y="411" width="1" height="38" fill="#f00"/>
<rect x="303" y="411" width="1" height="38" fill="#f00"/>
<rect x="311" y="411" width="3" height="38" fill="#f00"/>
<rect x="318" y="411" width="1" height="38" fill="#f00"/>
<rect x="326" y="411" width="1" height="38" fill="#f00"/>
<rect x="333" y="411" width="1" height="38" fill="#f00"/>
<rect x="340" y="411" width="1" height="38" fill="#f00"/>
<rect x="348" y="411" width="1" height="38" fill="#f00"/>
<rect x="355" y="411" width="1" height="38" fill="#f00"/>
<rect x="363" y="411" width="1" height="38" fill="#f00"/>
<rect x="370" y="411" width="1" height="38" fill="#f00"/>
<rect x="377" y="411" width="1" height="38" fill="#f00"/>
<rect x="385" y="411" width="1" height="38" fill="#f00"/>
<rect x="392" y="411" width="1" height="38" fill="#f00"/>
<rect x="400" y="411" width="2" height="38" fill="#f00"/>
<rect x="408" y="411" width="1" height="38" fill="#f00"/>
<rect x="415" y="411" width="1" height="38" fill="#f00"/>
<rect x="423" y="411" width="1" height="38" fill="#f00"/>
<rect x="430" y="411" width="1" height="38" fill="#f00"/>
<rect x="438" y="411" width="1" height="38" fill="#f00"/>
<rect x="445" y="411" width="1" height="38" fill="#f00"/>
<rect x="453" y="411" width="1" height="38" fill="#f00"/>
<rect x="460" y="411" width="1" height="38" fill="#f00"/>
<rect x="467" y="411" width="1" height="38" fill="#f00"/>
<rect x="475" y="411" width="1" height="38" fill="#f00"/>
<rect x="482" y="411" width="1" height="38" fill="#f00"/>
<rect x="489" y="411" width="2" height="38" fill="#f00"/>
<rect x="497" y="411" width="1" height="38" fill="#f00"/>
<rect x="505" y="411" width="1" height="38" fill="#f00"/>
<rect x="512" y="411" width="1" height="38" fill="#f00"/>
<rect x="519" y="411" width="1" height="38" fill="#f00"/>
<rect x="527" y="411" width="1" height="38" fill="#f00"/>
<rect x="534" y="411" width="1" height="38" fill="#f00"/>
<rect x="542" y="411" width="1" height="38" fill="#f00"/>
<rect x="549" y="411" width="1" height="38" fill="#f00"/>
<rect x="556" y="411" width="1" height="38" fill="#f00"/>
<rect x="564" y="411" width="1" height="38" fill="#f00"/>
<rect x="571" y="411" width="1" height="38" fill="#f00"/>
<rect x="578" y="411" width="2" height="38" fill="#f00"/>
<rect x="587" y="411" width="1" height="38" fill="#f00"/>
<rect x="594" y="411" width="1" height="38" fill="#f00"/>
<rect x="602" y="411" width="1" height="38" fill="#f00"/>
<rect x="609" y="411" width="1" height="38" fill="#f00"/>
<rect x="616" y="411" width="1" height="38" fill="#f00"/>
<rect x="624" y="411" width="1" height="38" fill="#f00"/>
<rect x="631" y="411" width="1" height="38" fill="#f00"/>
<rect x="639" y="411" width="1" height="38" fill="#f00"/>
<rect x="646" y="411" width="1" height="38" fill="#f00"/>
<rect x="653" y="411" width="1" height="38" fill="#f00"/>
<rect x="661" y="411" width="1" height="38" fill="#f00"/>
<rect x="667" y="411" width="2" height="38" fill="#f00"/>
<rect x="676" y="411" width="1" height="38" fill="#f00"/>
<rect x="683" y="411" width="1" height="38" fill="#f00"/>
<rect x="690" y="411" width="1" height="38" fill="#f00"/>
<rect x="698" y="411" width="1" height="38" fill="#f00"/>
<rect x="705" y="411" width="1" height="38" fill="#f00"/>
<rect x="713" y="411" width="1" height="38" fill="#f00"/>
<rect x="720" y="411" width="1" height="38" fill="#f00"/>
<rect x="727" y="411" width="1" height="38" fill="#f00"/>
<rect x="735" y="411" width="1" height="38" fill="#f00"/>
<rect x="742" y="411" width="1" height="38" fill="#f00"/>
<rect x="750" y="411" width="1" height="38" fill="#f00"/>
<rect x="755" y="411" width="3" height="38" fill="#f00"/>
<rect x="764" y="411" width="1" height="38" fill="#f00"/>
<rect x="772" y="411" width="1" height="38" fill="#f00"/>
<rect x="779" y="411" width="1" height="38" fill="#f00"/>
<rect x="787" y="411" width="1" height="38" fill="#f00"/>
<rect x="794" y="411" width="1" height="38" fill="#f00"/>
<rect x="801" y="411" width="1" height="38" fill="#f00"/>
<rect x="809" y="411" width="1" height="38" fill="#f00"/>
<rect x="816" y="411" width="1" height="38" fill="#f00"/>
<rect x="824" y="411" width="1" height="38" fill="#f00"/>
<rect x="831" y="411" width="1" height="38" fill="#f00"/>
<rect x="838" y="411" width="1" height="38" fill="#f00"/>
<rect x="844" y="411" width="3" height="38" fill="#f00"/>
<rect x="853" y="411" width="1" height="38" fill="#f00"/>
<rect x="861" y="411" width="1" height="38" fill="#f00"/>
<rect x="868" y="411" width="1" height="38" fill="#f00"/>
<rect x="875" y="411" width="1" height="38" fill="#f00"/>
<rect x="883" y="411" width="1" height="38" fill="#f00"/>
<rect x="890" y="411" width="1" height="38" fill="#f00"/>
<rect x="898" y="411" width="1" height="38" fill="#f00"/>
<rect x="905" y="411" width="1" height="38" fill="#f00"/>
<rect x="912" y="411" width="1" height="38" fill="#f00"/>
<rect x="920" y="411" width="1" height="38" fill="#f00"/>
<rect x="927" y="411" width="1" height="38" fill="#f00"/>
<rect x="933" y="411" width="3" height="38" fill="#f00"/>
<rect x="942" y="411" width="1" height="38" fill="#f00"/>
<rect x="949" y="411" width="1" height="38" fill="#f00"/>
<rect x="957" y="411" width="1" height="38" fill="#f00"/>
<rect x="964" y="411" width="1" height="38" fill="#f00"/>
<rect x="972" y="411" width="1" height="38" fill="#f00"/>
<rect x="979" y="411" width="1" height="38" fill="#f00"/>
<rect x="987" y="411" width="1" height="38" fill="#f00"/>
<rect x="994" y="411" width="1" height="38" fill="#f00"/>
<rect x="1001" y="411" width="1" height="38" fill="#f00"/>
<rect x="1009" y="411" width="1" height="38" fill="#f00"/>
<rect x="1016" y="411" width="1" height="38" fill="#f00"/>
<rect x="1022" y="411" width="3" height="38" fill="#f00"/>
<rect x="1031" y="411" width="1" height="38" fill="#f00"/>
<rect x="1038" y="411" width="1" height="38" fill="#f00"/>
<rect x="218" y="504" width="2" height="38" fill="#f00"/>
<rect x="193" y="826" width="3" height="1" fill="#000"/>
<rect x="196" y="827" width="8" height="1" fill="#000"/>
<rect x="204" y="828" width="7" height="1" fill="#000"/>
<rect x="211" y="829" width="8" height="1" fill="#000"/>
<rect x="219" y="830" width="10" height="1" fill="#000"/>
<rect x="229" y="831" width="11" height="1" fill="#000"/>
<rect x="240" y="832" width="8" height="1" fill="#000"/>
<rect x="248" y="833" width="11" height="1" fill="#000"/>
<rect x="259" y="834" width="30" height="1" fill="#000"/>
<rect x="289" y="835" width="44" height="1" fill="#000"/>
<rect x="333" y="834" width="15" height="1" fill="#000"/>
<rect x="348" y="833" width="15" height="1" fill="#000"/>
<rect x="363" y="832" width="11" height="1" fill="#000"/>
<rect x="374" y="831" width="7" height="1" fill="#000"/>
<rect x="381" y="830" width="56" height="1" fill="#000"/>
<rect x="437" y="831" width="14" height="1" fill="#000"/>
<rect x="451" y="832" width="15" height="1" fill="#000"/>
<rect x="466" y="833" width="15" height="1" fill="#000"/>
<rect x="481" y="834" width="30" height="1" fill="#000"/>
<rect x="511" y="835" width="14" height="1" fill="#000"/>
<rect x="525" y="836" width="30" height="1" fill="#000"/>
<rect x="555" y="837" width="15" height="1" fill="#000"/>
<rect x="570" y="836" width="40" height="1" fill="#000"/>
<rect x="610" y="837" width="8" height="1" fill="#000"/>
<rect x="618" y="838" width="11" height="1" fill="#000"/>
<rect x="629" y="839" width="15" height="1" fill="#000"/>
<rect x="644" y="840" width="29" height="1" fill="#000"/>
<rect x="673" y="841" width="45" height="1" fill="#000"/>
<rect x="718" y="840" width="29" height="1" fill="#000"/>
<rect x="747" y="839" width="15" height="1" fill="#000"/>
<rect x="762" y="840" width="30" height="1" fill="#000"/>
<rect x="792" y="841" width="29" height="1" fill="#000"/>
<rect x="821" y="840" width="11" height="1" fill="#000"/>
<rect x="832" y="839" width="8" height="1" fill="#000"/>
<rect x="840" y="838" width="70" height="1" fill="#000"/>
<rect x="910" y="839" width="30" height="1" fill="#000"/>
<rect x="940" y="840" width="15" height="1" fill="#000"/>
<rect x="955" y="839" width="11" height="1" fill="#000"/>
<rect x="966" y="838" width="7" height="1" fill="#000"/>
<rect x="973" y="837" width="11" height="1" fill="#000"/>
<rect x="984" y="836" width="10" height="1" fill="#000"/>
<rect x="994" y="835" width="5" height="1" fill="#000"/>
<rect x="999" y="834" width="5" height="1" fill="#000"/>
<rect x="1004" y="833" width="10" height="1" fill="#000"/>
<rect x="1014" y="834" width="29" height="1" fill="#000"/>
<rect x="1043" y="833" width="30" height="1" fill="#000"/>
<rect x="1073" y="832" width="6" height="1" fill="#000"/>
</g>
<g id="labels" filter="url(#bin)" stroke="#000" stroke-width="0.5">
<text transform="translate(636.8,43) scale(1,0.955)" font-size="31" text-anchor="middle" letter-spacing="0.035">Time Interval: 24-Jul-2025 00:00:00 to 24-Jul-2025 01:00:00</text>
<text x="183.5" y="117" font-size="24.8" text-anchor="end" letter-spacing="0.06">Be_thick</text>
<text x="183.5" y="164" font-size="24.8" text-anchor="end" letter-spacing="0.06">Al_thick</text>
<text x="183.5" y="210" font-size="24.8" text-anchor="end" letter-spacing="0.06">Al_med</text>
<text x="183.5" y="256" font-size="24.8" text-anchor="end" letter-spacing="0.06">Be_med</text>
<text x="183.5" y="303" font-size="24.8" text-anchor="end" letter-spacing="0.06">Be_thin</text>
<text x="183.5" y="349" font-size="24.8" text-anchor="end" letter-spacing="0.06">C_poly</text>
<text x="183.5" y="396" font-size="24.8" text-anchor="end" letter-spacing="0.06">Ti_poly</text>
<text x="183.5" y="442" font-size="24.8" text-anchor="end" letter-spacing="0.06">Al_poly</text>
<text x="183.5" y="488" font-size="24.8" text-anchor="end" letter-spacing="0.06">Al_mesh</text>
<text x="183.5" y="535" font-size="24.8" text-anchor="end" letter-spacing="0.06">Gband</text>
<text x="183.5" y="589" font-size="24.8" text-anchor="end">M1.0</text>
<text x="183.5" y="851" font-size="24.8" text-anchor="end">C1.0</text>
<text x="183.5" y="1110" font-size="24.8" text-anchor="end">B1.0</text>
<text x="192.5" y="1151" font-size="24.8" text-anchor="middle">00:00</text>
<text x="340.5" y="1151" font-size="24.8" text-anchor="middle">00:10</text>
<text x="488.5" y="1151" font-size="24.8" text-anchor="middle">00:20</text>
<text x="636.5" y="1151" font-size="24.8" text-anchor="middle">00:30</text>
<text x="784.5" y="1151" font-size="24.8" text-anchor="middle">00:40</text>
<text x="932.5" y="1151" font-size="24.8" text-anchor="middle">00:50</text>
<text x="1080.5" y="1151" font-size="24.8" text-anchor="middle">01:00</text>
<text transform="translate(101,839.3) rotate(-90) scale(0.995,1.045)" font-size="24.8" text-anchor="middle">GOES flux</text>
</g>
</svg>
</body>
</html>
